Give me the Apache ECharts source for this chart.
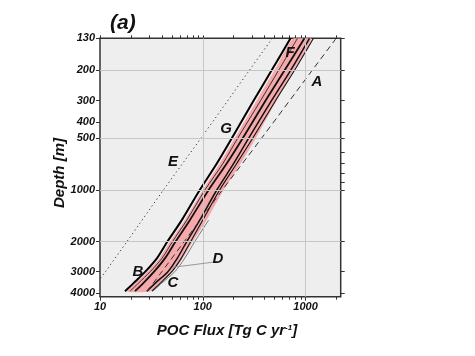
<!DOCTYPE html>
<html>
<head>
<meta charset="utf-8">
<script src="https://cdn.jsdelivr.net/npm/echarts@6/dist/echarts.min.js"></script>
<style>html,body{margin:0;padding:0;background:#fff}#chart{width:475px;height:356px}</style>
</head>
<body>
<div id="chart"></div>
<script>
// ---- data ----
const depths   = [130, 200, 300, 500, 700, 1000, 1500, 2000, 2500, 3000, 3500, 3900];
const curveG   = [715, 468, 313, 191, 137, 93.5, 62.5, 45.3, 35.9, 27.6, 21.2, 17.5];
const bandLow  = [764, 500, 335, 204, 146, 100, 66.8, 47.9, 37.9, 28.9, 21.9, 17.9];
const bandHigh = [1143, 765, 523, 327, 234, 160, 109, 79.9, 64.0, 51.0, 38.1, 31.3];
const curve2   = [977, 626, 409, 244, 171, 114, 74.8, 54.4, 43.0, 33.6, 26.4, 21.9];
const curve3   = [1093, 716, 468, 279, 200, 137, 93.5, 69.9, 56.6, 45.8, 34.5, 28.6];
const curve4   = [1195, 782, 512, 305, 214, 146, 99.9, 76.4, 61.9, 50.0, 38.6, 32.0];
const curve5   = [836, 547, 366, 218, 157, 105, 69.9, 50.8, 40.2, 30.8, 23.7, 19.6];
const depthsA  = [130, 200, 500, 1000, 2000, 3000, 3900];
const curveA   = [1990, 1161, 372, 155, 66.1, 40.0, 28.8];
const depthsE  = [130, 200, 500, 1000, 2000, 3000, 3300];
const curveE   = [475, 284, 95.6, 41.4, 18.3, 11.3, 10.0];
const depthsC  = [1500, 2000, 2500, 3000, 3500, 3900];
const curveC   = [114, 83.6, 66.9, 53.5, 39.9, 32.7];
const leaderDFlux  = [51.1, 125];
const leaderDDepth = [2828, 2643];

const xMajorTicks = [10, 100, 1000];
const xMinorTicks = [20, 30, 40, 50, 60, 70, 80, 90, 200, 300, 400, 500, 600, 700, 800, 900, 2000];
const yLabelTicks = [130, 200, 300, 400, 500, 1000, 2000, 3000, 4000];
const yRightTicks = [130, 200, 300, 400, 500, 600, 700, 800, 900, 1000, 2000, 3000, 4000];
const xGridLines = [100, 1000];
const yGridLines = [200, 500, 1000, 2000];
const xRange = [10, 2200];
const yRange = [130, 4200];

// ---- helpers ----
const lg = v => Math.log10(v);
const pairs = (fx, dp) => fx.map((f, i) => [lg(f), lg(dp[i])]);
const FONT = 'Liberation Sans';
const lblStyle = {fontFamily: FONT, fontWeight: 'bold', fontStyle: 'italic', fontSize: 11, color: '#111'};
const SMOOTH = 0.3;

const xMin = lg(xRange[0]), xMax = lg(xRange[1]);
const yMin = lg(yRange[0]), yMax = lg(yRange[1]);

function xAx(extra) {
  return Object.assign({
    type: 'value', min: xMin, max: xMax, interval: 1,
    axisLine: {show: false}, splitLine: {show: false},
    axisLabel: {show: false}, axisTick: {show: false}
  }, extra);
}
function yAx(extra) {
  return Object.assign({
    type: 'value', min: yMin, max: yMax, inverse: true,
    axisLine: {show: false}, splitLine: {show: false},
    axisLabel: {show: false}, axisTick: {show: false}
  }, extra);
}
const tickLine = {color: '#333', width: 1};

const lineSeries = (name, fx, dp, style, z) => ({
  name, type: 'line', data: pairs(fx, dp), showSymbol: false, symbol: 'none',
  smooth: SMOOTH, lineStyle: style, z: z || 3, silent: true, clip: true
});

const chart = echarts.init(document.getElementById('chart'), null, {renderer: 'canvas'});
chart.setOption({
  animation: false,
  backgroundColor: '#fff',
  grid: {left: 100, right: 134.3, top: 38.3, bottom: 59.3, show: true,
         backgroundColor: '#eeeeee', borderColor: '#333', borderWidth: 1.5},
  xAxis: [
    xAx({position: 'bottom',
         axisLabel: Object.assign({show: true, margin: 5, customValues: xMajorTicks.map(lg),
           formatter: v => String(Math.round(Math.pow(10, v)))}, lblStyle),
         axisTick: {show: true, length: 4, lineStyle: tickLine, customValues: xMajorTicks.map(lg)}}),
    xAx({position: 'bottom',
         axisTick: {show: true, length: 3, lineStyle: tickLine, customValues: xMinorTicks.map(lg)}}),
    xAx({position: 'top',
         axisTick: {show: true, length: 3, lineStyle: tickLine,
           customValues: xMajorTicks.concat(xMinorTicks).map(lg)}})
  ],
  yAxis: [
    yAx({position: 'left',
         axisLabel: Object.assign({show: true, margin: 5, customValues: yLabelTicks.map(lg),
           formatter: v => String(Math.round(Math.pow(10, v)))}, lblStyle),
         axisTick: {show: true, length: 4, lineStyle: tickLine, customValues: yLabelTicks.map(lg)}}),
    yAx({position: 'right',
         axisTick: {show: true, length: 4, lineStyle: tickLine, customValues: yRightTicks.map(lg)}})
  ],
  series: [
    // grid lines (drawn first, underneath)
    {
      type: 'line', data: pairs(curveE, depthsE), showSymbol: false, symbol: 'none',
      lineStyle: {opacity: 0}, z: 1, silent: true,
      markLine: {
        silent: true, symbol: ['none', 'none'], label: {show: false}, animation: false,
        lineStyle: {color: '#c6c6c6', width: 1, type: 'solid'},
        data: yGridLines.map(v => ({yAxis: lg(v)})).concat(xGridLines.map(v => ({xAxis: lg(v)})))
      }
    },
    // pink envelope
    {
      type: 'custom', z: 2, silent: true, clip: true,
      data: [[lg(bandLow[0]), lg(depths[0])]],
      renderItem: (params, api) => {
        const pts = [];
        for (let i = 0; i < depths.length; i++) pts.push(api.coord([lg(bandLow[i]), lg(depths[i])]));
        for (let i = depths.length - 1; i >= 0; i--) pts.push(api.coord([lg(bandHigh[i]), lg(depths[i])]));
        return {type: 'polygon', shape: {points: pts, smooth: 0.25}, style: {fill: '#f5a9ab', stroke: null}};
      }
    },
    lineSeries('E', curveE, depthsE, {color: '#333', width: 1, type: [1.2, 3]}),
    lineSeries('A', curveA, depthsA, {color: '#333', width: 1, type: [6, 4]}, 4),
    lineSeries('C', curveC, depthsC, {color: '#777', width: 1}),
    lineSeries('L5', curve5, depths, {color: '#111', width: 0.8}),
    lineSeries('L4', curve4, depths, {color: '#111', width: 1.1}),
    lineSeries('L3', curve3, depths, {color: '#111', width: 1.5}),
    lineSeries('L2', curve2, depths, {color: '#111', width: 1.8}),
    lineSeries('G', curveG, depths, {color: '#000', width: 2}),
    {
      type: 'line', data: pairs(leaderDFlux, leaderDDepth), showSymbol: false, symbol: 'none',
      lineStyle: {color: '#999', width: 1}, z: 5, silent: true
    }
  ],
  graphic: [
    {type: 'text', left: 110, top: 13, style: {text: '(a)', font: 'italic bold 21px "Liberation Sans"', fill: '#111'}},
    {type: 'text', x: 60, y: 173, rotation: Math.PI / 2,
     style: {text: 'Depth [m]', font: 'italic bold 15px "Liberation Sans"', fill: '#111', align: 'center', verticalAlign: 'middle'}},
    {type: 'text', x: 227, y: 331,
     style: {text: '{n|POC Flux [Tg C yr}{s|-1}{n|]}', align: 'center', verticalAlign: 'middle',
       rich: {n: {font: 'italic bold 15px "Liberation Sans"', fill: '#111'},
              s: {font: 'italic bold 8px "Liberation Sans"', fill: '#111', verticalAlign: 'top', padding: [0, 0, 7, 0]}}}},
    {type: 'text', x: 317, y: 82, style: {text: 'A', font: 'italic bold 15px "Liberation Sans"', fill: '#111', align: 'center', verticalAlign: 'middle'}, z: 10},
    {type: 'text', x: 138, y: 272, style: {text: 'B', font: 'italic bold 15px "Liberation Sans"', fill: '#111', align: 'center', verticalAlign: 'middle'}, z: 10},
    {type: 'text', x: 173, y: 283, style: {text: 'C', font: 'italic bold 15px "Liberation Sans"', fill: '#111', align: 'center', verticalAlign: 'middle'}, z: 10},
    {type: 'text', x: 218, y: 259, style: {text: 'D', font: 'italic bold 15px "Liberation Sans"', fill: '#111', align: 'center', verticalAlign: 'middle'}, z: 10},
    {type: 'text', x: 173, y: 162, style: {text: 'E', font: 'italic bold 15px "Liberation Sans"', fill: '#111', align: 'center', verticalAlign: 'middle'}, z: 10},
    {type: 'text', x: 290, y: 53, style: {text: 'F', font: 'italic bold 15px "Liberation Sans"', fill: '#111', align: 'center', verticalAlign: 'middle'}, z: 10},
    {type: 'text', x: 226, y: 129, style: {text: 'G', font: 'italic bold 15px "Liberation Sans"', fill: '#111', align: 'center', verticalAlign: 'middle'}, z: 10}
  ]
});
</script>
</body>
</html>
